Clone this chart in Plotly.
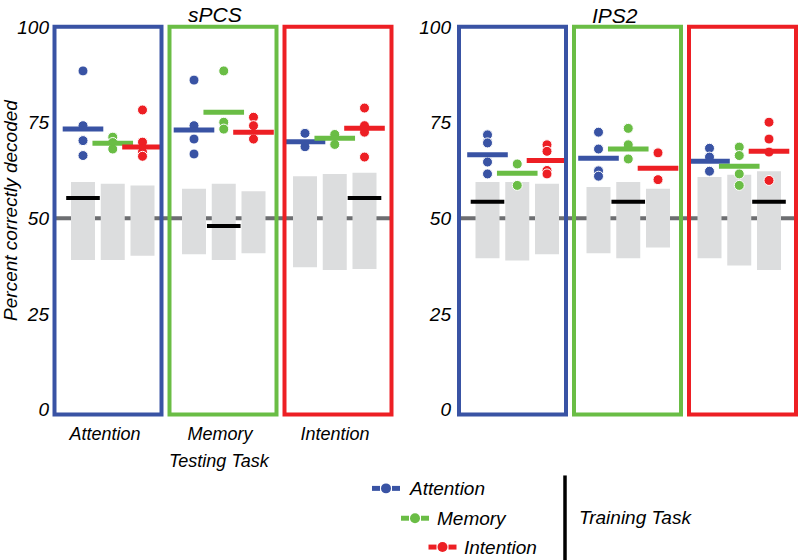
import plotly.graph_objects as go

# ---------------- data ----------------
TASKS = ["Attention", "Memory", "Intention"]
COLORS = ["#3953a4", "#6abd45", "#ed1f24"]
Y_TICKS = [0, 25, 50, 75, 100]
REGIONS = ["sPCS", "IPS2"]

# individual subjects: [testing task] -> [training task] -> values
SPCS_TEST_ATTENTION = [[88.5, 74.2, 70.3, 66.4], [71.2, 69.8, 68.1], [78.3, 69.9, 67.3, 66.2]]
SPCS_TEST_MEMORY = [[86.1, 74.2, 70.7, 66.8], [88.5, 75.1, 73.3], [76.4, 74.2, 70.7]]
SPCS_TEST_INTENTION = [[72.2, 68.7], [71.9, 69.3], [78.8, 74.2, 72.5, 66.0]]
SPCS_MEANS = [[73.3, 69.6, 68.6], [73.1, 77.7, 72.5], [70.0, 70.9, 73.5]]
SPCS_NULL_HIGH = [[59.5, 59.0, 58.6], [57.7, 59.0, 57.1], [61.0, 61.6, 61.9]]
SPCS_NULL_LOW = [[39.1, 39.1, 40.2], [40.6, 39.1, 40.9], [37.2, 36.5, 36.8]]
SPCS_THRESHOLD = [55.3, 48.0, 55.3]   # same training/testing task

IPS2_TEST_ATTENTION = [[71.8, 69.7, 64.7, 61.6], [64.2, 58.6], [69.2, 67.5, 62.5, 61.6]]
IPS2_TEST_MEMORY = [[72.5, 68.1, 62.4, 61.0], [73.5, 69.2, 65.5], [67.1, 60.1]]
IPS2_TEST_INTENTION = [[68.3, 66.0, 62.3], [68.6, 66.4, 61.6, 58.6], [75.1, 70.7, 67.3, 59.9]]
IPS2_MEANS = [[66.6, 61.8, 65.1], [65.7, 68.1, 63.1], [64.9, 63.6, 67.5]]
IPS2_NULL_HIGH = [[59.5, 59.5, 59.0], [58.2, 59.5, 57.7], [60.8, 61.4, 62.3]]
IPS2_NULL_LOW = [[39.6, 39.0, 40.6], [40.9, 39.6, 42.4], [39.6, 37.7, 36.5]]
IPS2_THRESHOLD = [54.3, 54.3, 54.3]

CHANCE = 50

# ---------------- layout constants (screen pixels) ----------------
W, H = 800, 560
FONT = "Liberation Sans, Arial, sans-serif"
GRAY_BAR = "#dcddde"
GRAY_LINE = "#6d6e71"

Y_RANGE = [-3, 102]
PX_PER_UNIT = 3.85
Y100_PX = 24
Y_TOP_PX = Y100_PX - (Y_RANGE[1] - 100) * PX_PER_UNIT
Y_BOT_PX = Y100_PX + (100 - Y_RANGE[0]) * PX_PER_UNIT

PANEL_X = [[50, 400], [452, 800]]        # axis domains/ranges in screen px units
PANEL_ORIGIN = [54.5, 459]               # left edge of first box
BOX_STEP, BOX_W = 115, 107
BAR_FIRST, BAR_GROUP_STEP, BAR_STEP = 28.5, 111, 29.75
BAR_W = 24


def px(x):
    return x / W


def py(y):
    return 1 - y / H


Y_DOMAIN = [py(Y_BOT_PX), py(Y_TOP_PX)]


def bar_x(panel, g, j):
    return PANEL_ORIGIN[panel] + BAR_FIRST + g * BAR_GROUP_STEP + j * BAR_STEP


def box_x(panel, g):
    x0 = PANEL_ORIGIN[panel] + g * BOX_STEP
    return x0, x0 + BOX_W


fig = go.Figure()

region_data = [
    dict(points=[SPCS_TEST_ATTENTION, SPCS_TEST_MEMORY, SPCS_TEST_INTENTION], means=SPCS_MEANS,
         hi=SPCS_NULL_HIGH, lo=SPCS_NULL_LOW, thr=SPCS_THRESHOLD),
    dict(points=[IPS2_TEST_ATTENTION, IPS2_TEST_MEMORY, IPS2_TEST_INTENTION], means=IPS2_MEANS,
         hi=IPS2_NULL_HIGH, lo=IPS2_NULL_LOW, thr=IPS2_THRESHOLD),
]

shapes = []
for p, d in enumerate(region_data):
    xa = "x" if p == 0 else "x2"
    ya = "y" if p == 0 else "y2"
    # null distribution bars
    bx, base, hgt = [], [], []
    for g in range(3):
        for j in range(3):
            bx.append(bar_x(p, g, j))
            base.append(d["lo"][g][j])
            hgt.append(d["hi"][g][j] - d["lo"][g][j])
    fig.add_trace(go.Bar(x=bx, y=hgt, base=base, width=BAR_W, marker=dict(color=GRAY_BAR, line=dict(width=0)),
                         xaxis=xa, yaxis=ya, showlegend=False, hoverinfo="skip"))
    # significance thresholds on same-task bars
    fig.add_trace(go.Scatter(x=[bar_x(p, g, g) for g in range(3)], y=d["thr"], mode="markers",
                             marker=dict(symbol="line-ew", size=BAR_W, line=dict(width=4, color="black")),
                             xaxis=xa, yaxis=ya, showlegend=False, hoverinfo="skip"))
    # individual subjects
    for j in range(3):
        xs, ys = [], []
        for g in range(3):
            for v in d["points"][g][j]:
                xs.append(bar_x(p, g, j))
                ys.append(v)
        fig.add_trace(go.Scatter(x=xs, y=ys, mode="markers",
                                 marker=dict(symbol="circle", size=10, color=COLORS[j],
                                             line=dict(width=1, color="white")),
                                 xaxis=xa, yaxis=ya, showlegend=False))
    # means
    for j in range(3):
        fig.add_trace(go.Scatter(x=[bar_x(p, g, j) for g in range(3)], y=[d["means"][g][j] for g in range(3)],
                                 mode="markers",
                                 marker=dict(symbol="line-ew", size=29, line=dict(width=5, color=COLORS[j])),
                                 xaxis=xa, yaxis=ya, showlegend=False))
    # chance line
    shapes.append(dict(type="line", xref=xa, yref=ya, x0=box_x(p, 0)[0], x1=box_x(p, 2)[1],
                       y0=CHANCE, y1=CHANCE, line=dict(color=GRAY_LINE, width=4), layer="below"))
    # boxes
    for g in range(3):
        x0, x1 = box_x(p, g)
        shapes.append(dict(type="rect", xref=xa, yref=ya, x0=x0, x1=x1, y0=-1.2, y1=100,
                           line=dict(color=COLORS[g], width=4), fillcolor="rgba(0,0,0,0)", layer="above"))

# legend marks (paper coordinates from pixels)
LEGEND_POS = [(386, 488), (415, 518), (442.5, 547)]
LEGEND_TEXT_X = [407, 435, 462]
annotations = []
for k, (cx, cy) in enumerate(LEGEND_POS):
    for sx in (-1, 1):
        shapes.append(dict(type="rect", xref="paper", yref="paper",
                           x0=px(cx + sx * 6), x1=px(cx + sx * 14), y0=py(cy + 2.5), y1=py(cy - 2.5),
                           fillcolor=COLORS[k], line=dict(width=0)))
    shapes.append(dict(type="circle", xref="paper", yref="paper",
                       x0=px(cx - 5), x1=px(cx + 5), y0=py(cy + 5), y1=py(cy - 5),
                       fillcolor=COLORS[k], line=dict(width=0)))
    annotations.append(dict(text=TASKS[k], xref="paper", yref="paper", x=px(LEGEND_TEXT_X[k]), y=py(cy),
                            xanchor="left", yanchor="middle", showarrow=False,
                            font=dict(family=FONT, size=19, color="black", style="italic")))
shapes.append(dict(type="line", xref="paper", yref="paper", x0=px(565), x1=px(565), y0=py(475), y1=py(560),
                   line=dict(color="black", width=3.5)))
annotations.append(dict(text="Training Task", xref="paper", yref="paper", x=px(577), y=py(517),
                        xanchor="left", yanchor="middle", showarrow=False,
                        font=dict(family=FONT, size=19, color="black", style="italic")))

# titles and axis labels
annotations += [
    dict(text=REGIONS[0], xref="paper", yref="paper", x=px(214.5), y=py(12), showarrow=False,
         xanchor="center", yanchor="middle", font=dict(family=FONT, size=21, color="black", style="italic")),
    dict(text=REGIONS[1], xref="paper", yref="paper", x=px(615), y=py(13), showarrow=False,
         xanchor="center", yanchor="middle", font=dict(family=FONT, size=21, color="black", style="italic")),
    dict(text="Percent correctly decoded", xref="paper", yref="paper", x=px(11), y=py(208), textangle=-90,
         showarrow=False, xanchor="center", yanchor="middle",
         font=dict(family=FONT, size=19, color="black", style="italic")),
    dict(text="Testing Task", xref="paper", yref="paper", x=px(219.5), y=py(460), showarrow=False,
         xanchor="center", yanchor="middle", font=dict(family=FONT, size=18, color="black", style="italic")),
]

tickfont = dict(family=FONT, size=19, color="black", style="italic")
yaxis_common = dict(range=Y_RANGE, domain=Y_DOMAIN, tickvals=Y_TICKS, ticktext=[str(v) for v in Y_TICKS],
                    showgrid=False, zeroline=False, showline=False, ticks="", tickfont=tickfont,
                    fixedrange=True)

fig.update_layout(
    width=W, height=H,
    margin=dict(l=0, r=0, t=0, b=0),
    paper_bgcolor="white", plot_bgcolor="rgba(0,0,0,0)",
    barmode="overlay", showlegend=False,
    xaxis=dict(domain=[px(PANEL_X[0][0]), px(PANEL_X[0][1])], range=PANEL_X[0], anchor="y",
               tickvals=[box_x(0, g)[0] + BOX_W / 2 - 3 for g in range(3)], ticktext=TASKS,
               tickfont=dict(family=FONT, size=18, color="black", style="italic"),
               showgrid=False, zeroline=False, showline=False, ticks=""),
    xaxis2=dict(domain=[px(PANEL_X[1][0]), px(PANEL_X[1][1])], range=PANEL_X[1], anchor="y2",
                showticklabels=False, showgrid=False, zeroline=False, showline=False, ticks=""),
    yaxis=dict(anchor="x", **yaxis_common),
    yaxis2=dict(anchor="x2", **yaxis_common),
    shapes=shapes,
    annotations=annotations,
)

# remove the browser's default 8px page margin so the 800x560 figure fills the window
fig.write_html("out.html", config={"displayModeBar": False},
               post_script="document.body.style.margin='0';document.body.style.overflow='hidden';")
